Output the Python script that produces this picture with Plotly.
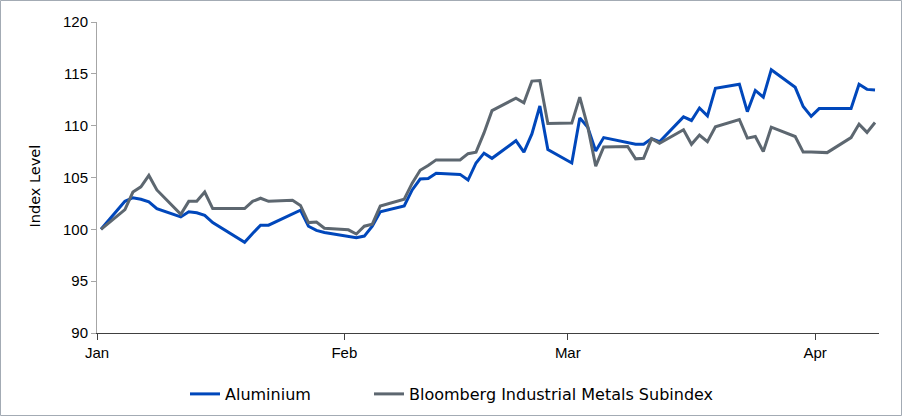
import plotly.graph_objects as go

dates = [
    "2021-01-01", "2021-01-04", "2021-01-05", "2021-01-06", "2021-01-07", "2021-01-08",
    "2021-01-11", "2021-01-12", "2021-01-13", "2021-01-14", "2021-01-15",
    "2021-01-19", "2021-01-20", "2021-01-21", "2021-01-22",
    "2021-01-25", "2021-01-26", "2021-01-27", "2021-01-28", "2021-01-29",
    "2021-02-01", "2021-02-02", "2021-02-03", "2021-02-04", "2021-02-05",
    "2021-02-08", "2021-02-09", "2021-02-10", "2021-02-11", "2021-02-12",
    "2021-02-15", "2021-02-16", "2021-02-17", "2021-02-18", "2021-02-19",
    "2021-02-22", "2021-02-23", "2021-02-24", "2021-02-25", "2021-02-26",
    "2021-03-01", "2021-03-02", "2021-03-03", "2021-03-04", "2021-03-05",
    "2021-03-08", "2021-03-09", "2021-03-10", "2021-03-11", "2021-03-12",
    "2021-03-15", "2021-03-16", "2021-03-17", "2021-03-18", "2021-03-19",
    "2021-03-22", "2021-03-23", "2021-03-24", "2021-03-25", "2021-03-26",
    "2021-03-29", "2021-03-30", "2021-03-31", "2021-04-01", "2021-04-02",
    "2021-04-05", "2021-04-06", "2021-04-07", "2021-04-08",
]

aluminium = [
    100.0, 102.7, 103.05, 102.9, 102.65, 102.0,
    101.2, 101.7, 101.6, 101.35, 100.65,
    98.75, 99.6, 100.4, 100.4,
    101.5, 101.85, 100.3, 99.9, 99.7,
    99.35, 99.2, 99.35, 100.3, 101.7,
    102.25, 103.8, 104.85, 104.9, 105.4,
    105.3, 104.75, 106.4, 107.35, 106.85,
    108.55, 107.45, 109.2, 111.9, 107.7,
    106.4, 110.75, 109.85, 107.55, 108.85,
    108.35, 108.2, 108.2, 108.75, 108.45,
    110.85, 110.5, 111.7, 110.95, 113.6,
    114.0, 111.35, 113.4, 112.75, 115.4,
    113.7, 111.85, 110.9, 111.65, 111.65,
    111.65, 114.0, 113.5, 113.45,
]

bcom_ind_metals = [
    100.0, 101.9, 103.6, 104.1, 105.2, 103.8,
    101.45, 102.7, 102.7, 103.6, 102.0,
    102.0, 102.7, 103.0, 102.7,
    102.8, 102.3, 100.65, 100.7, 100.1,
    99.95, 99.55, 100.3, 100.5, 102.25,
    102.9, 104.45, 105.7, 106.15, 106.7,
    106.7, 107.3, 107.45, 109.3, 111.45,
    112.65, 112.2, 114.3, 114.35, 110.2,
    110.25, 112.75, 109.9, 106.1, 107.95,
    108.0, 106.8, 106.85, 108.75, 108.3,
    109.6, 108.2, 109.1, 108.45, 109.9,
    110.6, 108.8, 108.95, 107.5, 109.85,
    108.95, 107.45, 107.45, 107.45, 107.4,
    108.85, 110.15, 109.35, 110.3,
]

month_ticks = ["2021-01-01", "2021-02-01", "2021-03-01", "2021-04-01"]
month_labels = ["Jan", "Feb", "Mar", "Apr"]

FONT = "Liberation Sans, Arial, sans-serif"
WIDE = "DejaVu Sans, Verdana, sans-serif"

fig = go.Figure()
fig.add_trace(go.Scatter(
    x=dates, y=aluminium, name="Aluminium", mode="lines",
    line=dict(color="#0047bb", width=3),
    xperiod=86400000, xperiodalignment="middle",
    legend="legend",
))
fig.add_trace(go.Scatter(
    x=dates, y=bcom_ind_metals, name="Bloomberg Industrial Metals Subindex", mode="lines",
    line=dict(color="#5d6770", width=3),
    xperiod=86400000, xperiodalignment="middle",
    legend="legend2",
))

legend_common = dict(
    orientation="h", xanchor="left", y=-61 / 311, yanchor="middle",
    font=dict(family=WIDE, size=16, color="#000000"),
    itemwidth=30, bgcolor="rgba(0,0,0,0)",
)

fig.update_layout(
    width=902, height=416,
    margin=dict(l=97, r=23, t=22, b=83, autoexpand=False),
    paper_bgcolor="white", plot_bgcolor="white",
    font=dict(family=FONT, size=15, color="#000000"),
    showlegend=True,
    legend=dict(x=88 / 782, **legend_common),
    legend2=dict(x=272 / 782, **legend_common),
    xaxis=dict(
        type="date", range=["2021-01-01", "2021-04-09"],
        tickvals=month_ticks, ticktext=month_labels,
        ticks="outside", ticklen=6, tickcolor="#404040", tickwidth=1,
        showline=True, linecolor="#404040", linewidth=1,
        showgrid=False, zeroline=False,
        tickfont=dict(size=15),
    ),
    yaxis=dict(
        range=[90, 120], dtick=5,
        ticks="outside", ticklen=5, tickcolor="#a6a6a6", tickwidth=1,
        showline=True, linecolor="#a6a6a6", linewidth=1,
        showgrid=False, zeroline=False,
        tickfont=dict(size=15),
    ),
    annotations=[dict(
        text="Index Level", textangle=-90, showarrow=False,
        xref="paper", yref="paper", x=(35 - 97) / 782, y=(333 - 186.5) / 311,
        xanchor="center", yanchor="middle",
        font=dict(family=WIDE, size=14.5, color="#000000"),
    )],
    shapes=[dict(
        type="rect", xref="paper", yref="paper",
        x0=(0.5 - 97) / 782, x1=(901.5 - 97) / 782,
        y0=-(415.5 - 333) / 311, y1=(333 - 0.5) / 311,
        line=dict(color="#a3abb4", width=1), fillcolor="rgba(0,0,0,0)",
        layer="below",
    )],
)

fig.write_html(
    "out.html",
    config={"displayModeBar": False},
    post_script="document.body.style.margin='0';",
)
